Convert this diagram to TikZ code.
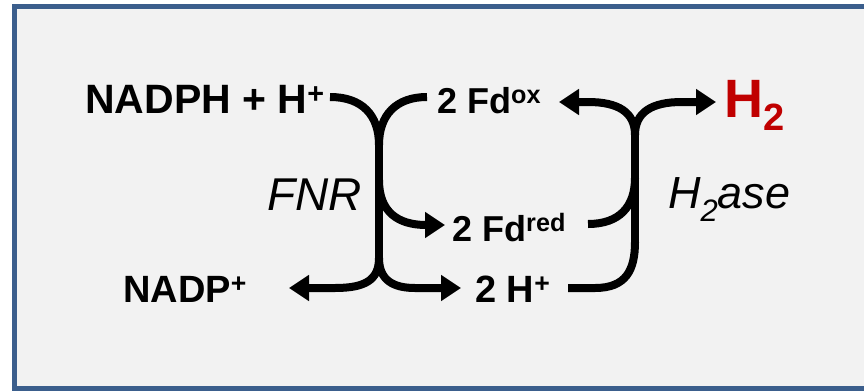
\documentclass[tikz,border=0pt]{standalone}
\usepackage{fontspec}
\setmainfont{Liberation Sans}
\usetikzlibrary{arrows.meta}
\definecolor{framebl}{HTML}{3B5E8C}
\definecolor{panel}{HTML}{F2F2F2}
\definecolor{hred}{HTML}{C00000}
\newcommand{\fsz}[1]{\fontsize{#1}{#1}\selectfont}
\tikzset{
  lbl/.style={inner sep=0pt, anchor=base west, font=\bfseries},
  enz/.style={inner sep=0pt, anchor=base west, font=\itshape},
  conn/.style={line width=8pt, line cap=butt, black},
  arr/.style={conn, -{Triangle[length=20pt,width=25pt]}}
}
\begin{document}
\begin{tikzpicture}[x=1pt,y=-1pt]
\useasboundingbox (0,0) rectangle (864,391);
\fill[white] (0,0) rectangle (864,391);
\fill[panel] (14.5,6.5) rectangle (864,388.5);
\draw[framebl, line width=5pt] (864,6.5) -- (14.5,6.5) -- (14.5,388.5) -- (864,388.5);

% texts
\node[lbl] (nadph) at (85,113) {\fsz{41}NADPH + H\textsuperscript{+}};
\node[lbl] (fdox) at (437,113) {\fsz{36}2 Fd\textsuperscript{ox}};
\node[lbl] (fdred) at (452,241) {\fsz{36}2 Fd\textsuperscript{red}};
\node[lbl] (hplus) at (475,302) {\fsz{38}2 H\textsuperscript{+}};
\node[lbl] (nadp) at (123,302) {\fsz{38}NADP\textsuperscript{+}};
\node[enz] (fnr) at (267,210) {\fsz{46}FNR};
\node[enz] (h2ase) at (668,208) {\fsz{45}H\raisebox{-0.3em}{\fsz{31}2}ase};
\node[lbl, text=hred] (h2) at (724,117) {\fsz{54}H\raisebox{-0.25em}{\fsz{38}2}};

% FNR junction coordinates
\coordinate (fA) at (330,97);
\coordinate (fB) at (427,97);
\coordinate (fTop) at (379,145);
\coordinate (fMid) at (379,180);
\coordinate (fBot) at (379,258);
\coordinate (fRedTip) at (445,225);
\coordinate (fNadpTip) at (289,288);
\coordinate (fHTip) at (461,288);

\draw[conn] (fA) .. controls (362,97) and (379,115) .. (fTop);
\draw[conn] (fB) .. controls (396,97) and (379,115) .. (fTop);
\draw[conn] (fTop) -- (fBot);
\draw[arr] (fMid) .. controls (379,212) and (398,225) .. (fRedTip);
\draw[arr] (fBot) .. controls (379,280) and (365,288) .. (335,288) -- (fNadpTip);
\draw[arr] (fBot) .. controls (379,280) and (393,288) .. (415,288) -- (fHTip);

% H2ase junction coordinates
\coordinate (hTop) at (635,135);
\coordinate (hMid) at (635,178);
\coordinate (hBot) at (635,242);
\coordinate (hOxTip) at (559,102);
\coordinate (hH2Tip) at (716,102);
\coordinate (hRed) at (588,224);
\coordinate (hH) at (568,288);

\draw[conn] (hTop) -- (hBot);
\draw[arr] (hTop) .. controls (635,112) and (618,102) .. (588,102) -- (hOxTip);
\draw[arr] (hTop) .. controls (635,112) and (652,102) .. (682,102) -- (hH2Tip);
\draw[conn] (hRed) .. controls (620,224) and (635,206) .. (hMid);
\draw[conn] (hH) -- (595,288) .. controls (626,288) and (635,270) .. (hBot);
\end{tikzpicture}
\end{document}
